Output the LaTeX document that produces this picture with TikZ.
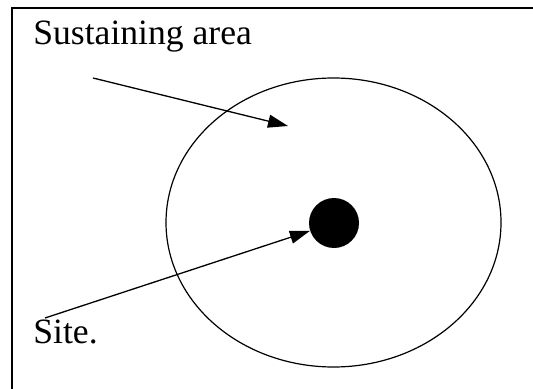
\documentclass[tikz,border=0pt]{standalone}
\usepackage{fontspec}
\setmainfont{Liberation Serif}
\usetikzlibrary{arrows.meta,shapes.geometric}

\tikzset{
  lbl/.style={anchor=base west, inner sep=0pt, font=\fontsize{17.8}{21}\selectfont},
  pointer/.style={line width=0.65pt, -{Triangle[length=10pt,width=6.5pt]}}
}

\begin{document}
\begin{tikzpicture}[x=0.5pt, y=-0.5pt]
    \useasboundingbox (0,0) rectangle (533,389);
    % frame (cut off at right and bottom)
    \draw[line width=0.75pt] (12,389) -- (12,8) -- (533,8);
    \node[ellipse, draw, line width=0.6pt, minimum width=167.5pt, minimum height=144.5pt, inner sep=0pt] (area) at (333.5,222.5) {};
    \node[circle, fill=black, minimum size=25pt, inner sep=0pt] (site) at (334,223) {};
    \node[lbl] (areatxt) at (33,45) {Sustaining area};
    \node[lbl] (sitetxt) at (33,343) {Site.};
    \coordinate (a0) at (93,78);
    \coordinate (a1) at (288,126);
    \coordinate (s0) at (45,318);
    \draw[pointer] (a0) -- (a1);
    \draw[pointer] (s0) -- (site);
\end{tikzpicture}
\end{document}
